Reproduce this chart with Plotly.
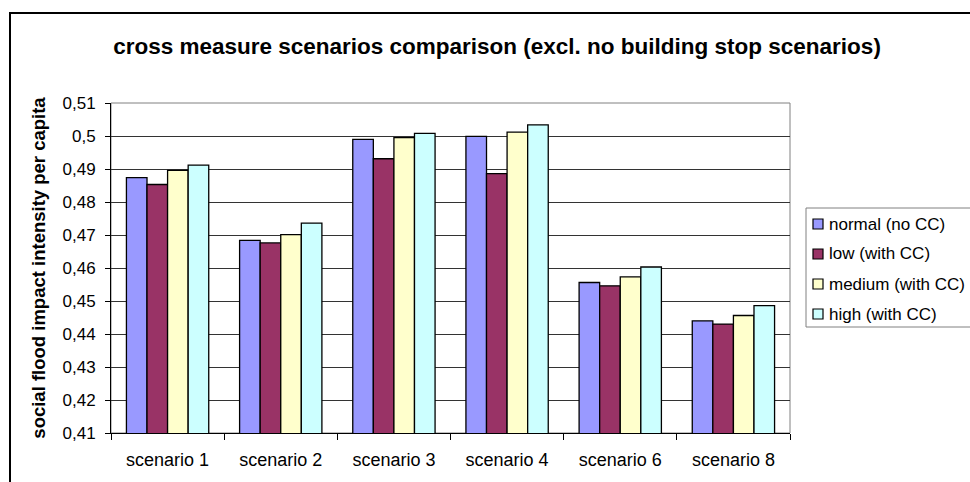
import plotly.graph_objects as go

scenarios = ["scenario 1", "scenario 2", "scenario 3", "scenario 4", "scenario 6", "scenario 8"]
normal_no_cc = [0.4874, 0.4684, 0.4990, 0.4999, 0.4556, 0.4440]
low_with_cc = [0.4853, 0.4676, 0.4931, 0.4886, 0.4546, 0.4430]
medium_with_cc = [0.4896, 0.4701, 0.4995, 0.5012, 0.4573, 0.4456]
high_with_cc = [0.4912, 0.4736, 0.5008, 0.5034, 0.4603, 0.4486]

series_names = ["normal (no CC)", "low (with CC)", "medium (with CC)", "high (with CC)"]
series_values = [normal_no_cc, low_with_cc, medium_with_cc, high_with_cc]
series_colors = ["#9999FF", "#993366", "#FFFFCC", "#CCFFFF"]

FONT = "Liberation Sans, Arial, sans-serif"
W, H = 970, 482
L, R, T, B = 111, 180, 103, 49
PW, PH = W - L - R, H - T - B


def px_x(x):
    """pixel column -> paper x"""
    return (x - L) / PW


def px_y(y):
    """pixel row -> paper y"""
    return (H - B - y) / PH


fig = go.Figure()
for name, vals, color in zip(series_names, series_values, series_colors):
    fig.add_trace(go.Bar(
        x=scenarios, y=vals, name=name,
        marker=dict(color=color, line=dict(color="#000000", width=1.3)),
        showlegend=False,
    ))

# plot-area border (grey top/right) and outer chart frame
fig.add_shape(type="rect", xref="paper", yref="paper", x0=0, x1=1, y0=0, y1=1,
              line=dict(color="#808080", width=1), layer="below")
fig.add_shape(type="rect", xref="paper", yref="paper",
              x0=px_x(10), x1=px_x(990), y0=px_y(500), y1=px_y(13),
              line=dict(color="#000000", width=2), layer="above")

# legend box with small square keys
fig.add_shape(type="rect", xref="paper", yref="paper",
              x0=px_x(806), x1=px_x(1000), y0=px_y(327), y1=px_y(208),
              line=dict(color="#808080", width=1), fillcolor="white", layer="above")
for i, (name, color) in enumerate(zip(series_names, series_colors)):
    cy = 224 + 30 * i
    fig.add_shape(type="rect", xref="paper", yref="paper",
                  x0=px_x(813), x1=px_x(823), y0=px_y(cy + 5), y1=px_y(cy - 5),
                  line=dict(color="#000000", width=1.2), fillcolor=color, layer="above")
    fig.add_annotation(text=name, xref="paper", yref="paper",
                       x=px_x(827), y=px_y(cy), xanchor="left", yanchor="middle",
                       showarrow=False, font=dict(family=FONT, size=17, color="#000000"))

fig.update_layout(
    width=W, height=H,
    margin=dict(l=L, r=R, t=T, b=B, autoexpand=False),
    paper_bgcolor="white", plot_bgcolor="white",
    separators=",.",
    barmode="group", bargap=0.2727, bargroupgap=0,
    font=dict(family=FONT, size=16, color="#000000"),
    title=dict(
        text="<b>cross measure scenarios comparison (excl. no building stop scenarios)</b>",
        x=497 / W, xref="container", xanchor="center",
        y=1 - 46 / H, yref="container", yanchor="middle",
        font=dict(family=FONT, size=22.5, color="#000000"),
    ),
    showlegend=False,
)
fig.update_xaxes(
    type="category", tickson="boundaries",
    ticks="outside", ticklen=6, tickcolor="#000000",
    showline=True, linecolor="#000000", linewidth=1,
    showgrid=False, tickfont=dict(size=18), ticklabelstandoff=10,
)
fig.update_yaxes(
    range=[0.41, 0.51], dtick=0.01, tick0=0.41,
    ticks="outside", ticklen=5, tickcolor="#000000",
    showline=True, linecolor="#000000", linewidth=1,
    showgrid=True, gridcolor="#333333", gridwidth=1,
    zeroline=False, tickfont=dict(size=17), ticklabelstandoff=6,
    title=dict(text="<b>social flood impact intensity per capita</b>",
               font=dict(family=FONT, size=18.5), standoff=12),
)

fig.write_html("out.html")
